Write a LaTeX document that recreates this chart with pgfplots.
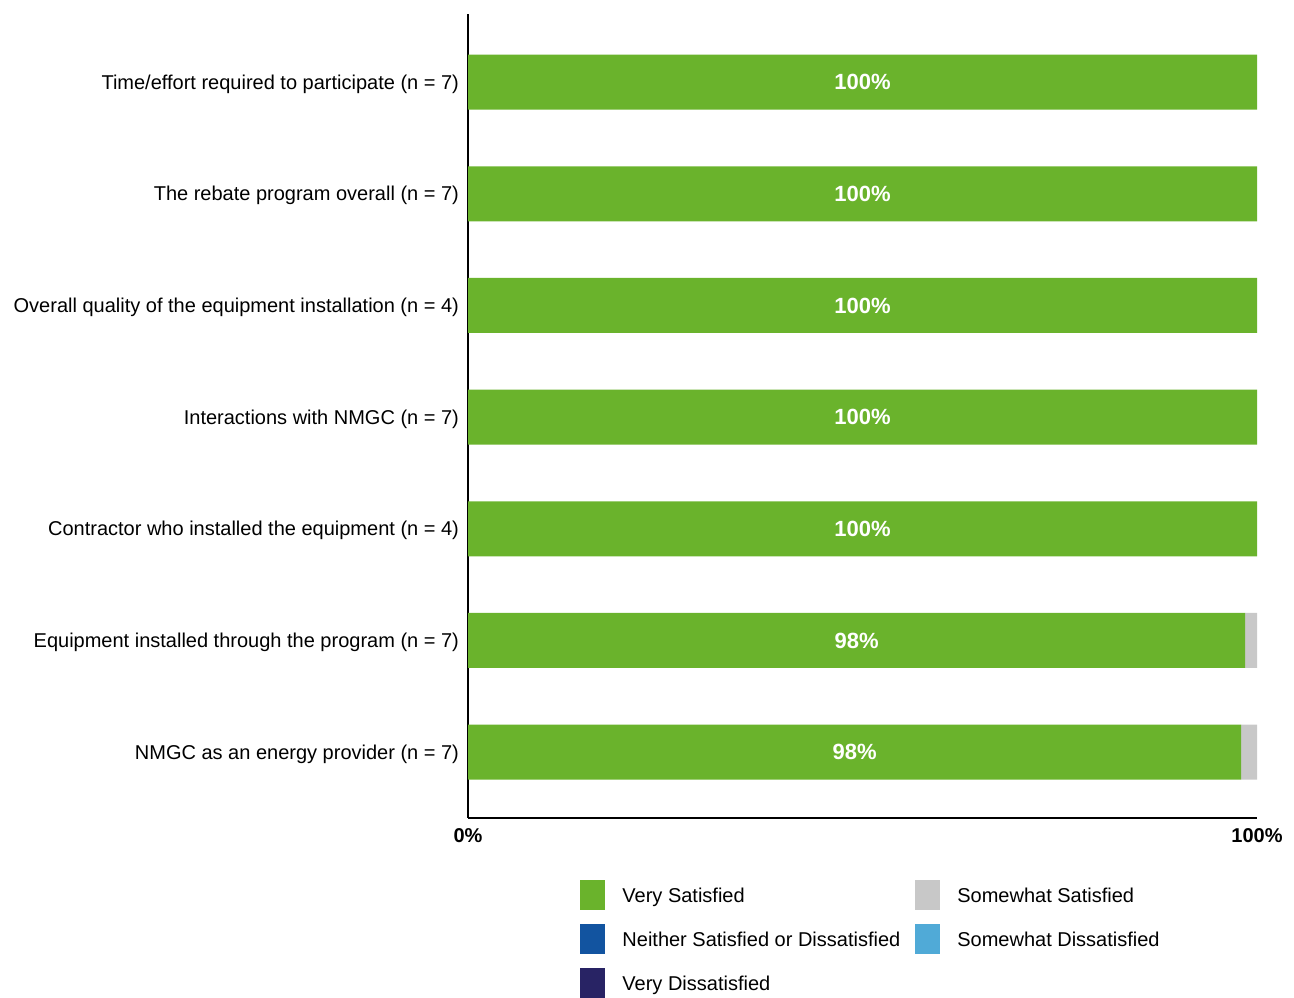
\documentclass[border=0pt]{standalone}
\usepackage{fontspec}
\setmainfont{Liberation Sans}
\usepackage{pgfplots}
\usepackage{pgfplotstable}
\pgfplotsset{compat=1.18}
\definecolor{vsat}{RGB}{106,179,44}
\definecolor{ssat}{RGB}{200,200,200}
\definecolor{neither}{RGB}{18,84,160}
\definecolor{sdis}{RGB}{80,170,215}
\definecolor{vdis}{RGB}{40,35,100}
\pgfplotstableread{
y vs ss ne sd vd
0 100 0 0 0 0
1 100 0 0 0 0
2 100 0 0 0 0
3 100 0 0 0 0
4 100 0 0 0 0
5 98.5 1.5 0 0 0
6 98 2 0 0 0
}\datatable
\pgfplotstableread{
x y label
50 0 100\%
50 1 100\%
50 2 100\%
50 3 100\%
50 4 100\%
49.25 5 98\%
49 6 98\%
}\labeltable
\begin{document}
\begin{tikzpicture}
\useasboundingbox (0,0) rectangle (647pt,498.5pt);
\begin{axis}[
  at={(234pt,89.5pt)}, anchor=south west,
  scale only axis, width=394.5pt, height=402pt,
  xbar stacked, bar width=27.5pt,
  xmin=0, xmax=100, ymin=-0.61, ymax=6.59, y dir=reverse,
  axis x line*=bottom, axis y line*=left,
  axis line style={-, line width=1pt, black},
  xtick={0,100}, xticklabels={\textbf{0\%},\textbf{100\%}},
  xticklabel style={font=\fontsize{10}{12}\selectfont, yshift=-1.5pt},
  ytick={0,1,2,3,4,5,6},
  yticklabels={Time/effort required to participate (n = 7),
    The rebate program overall (n = 7),
    Overall quality of the equipment installation (n = 4),
    Interactions with NMGC (n = 7),
    Contractor who installed the equipment (n = 4),
    Equipment installed through the program (n = 7),
    NMGC as an energy provider (n = 7)},
  yticklabel style={font=\fontsize{10}{12}\selectfont, xshift=-1pt, yshift=-1pt},
  major tick length=0pt,
  legend columns=2,
  legend cell align=left,
  legend style={at={(0.142,-0.077)}, anchor=north west, draw=none, fill=none,
    inner sep=0pt, row sep=7pt, font=\fontsize{10}{12}\selectfont,
    /tikz/column 2/.style={column sep=5.5pt}},
  area legend,
  legend image code/.code={\fill[#1] (0pt,-7pt) rectangle (12.5pt,8pt); \path (19pt,0pt);},
]
\addplot[fill=vsat, draw=none] table[x=vs, y=y] {\datatable};
\addlegendentry{Very Satisfied}
\addplot[fill=ssat, draw=none] table[x=ss, y=y] {\datatable};
\addlegendentry{Somewhat Satisfied}
\addplot[fill=neither, draw=none] table[x=ne, y=y] {\datatable};
\addlegendentry{Neither Satisfied or Dissatisfied}
\addplot[fill=sdis, draw=none] table[x=sd, y=y] {\datatable};
\addlegendentry{Somewhat Dissatisfied}
\addplot[fill=vdis, draw=none] table[x=vd, y=y] {\datatable};
\addlegendentry{Very Dissatisfied}
\end{axis}
\begin{axis}[
  at={(234pt,89.5pt)}, anchor=south west,
  scale only axis, width=394.5pt, height=402pt,
  xmin=0, xmax=100, ymin=-0.61, ymax=6.59, y dir=reverse,
  hide axis,
]
\addplot[only marks, mark=*, mark size=0pt, mark options={draw=none, fill=none},
  nodes near coords, point meta=explicit symbolic,
  nodes near coords style={anchor=center, text=white, font=\fontsize{11}{13}\selectfont\bfseries}]
  table[x=x, y=y, meta=label] {\labeltable};
\end{axis}
\end{tikzpicture}
\end{document}
